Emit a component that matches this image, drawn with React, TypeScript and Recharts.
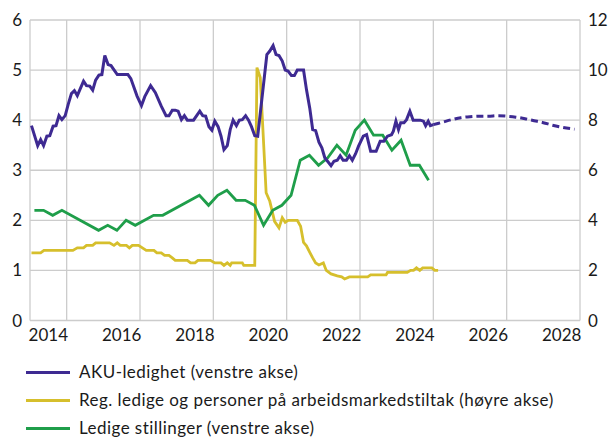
import React from 'react';
import { LineChart, Line, XAxis, YAxis, CartesianGrid } from 'recharts';

const FONT = 'Lato, "Open Sans", sans-serif';
const PURPLE = '#3E2A92';
const YELLOW = '#D6BF2C';
const GREEN = '#1F9E4A';

// X axis: year boundaries for gridlines, labels centred in each even year
const gridYears = [2014, 2015, 2016, 2017, 2018, 2019, 2020, 2021, 2022, 2023, 2024, 2025, 2026, 2027, 2028, 2029];
const labelYears = [2014, 2016, 2018, 2020, 2022, 2024, 2026, 2028];
const leftTicks = [0, 1, 2, 3, 4, 5, 6];
const rightTicks = [0, 2, 4, 6, 8, 10, 12];

// AKU-ledighet (left axis)
const akuT = [
  2014.04, 2014.21, 2014.29, 2014.37, 2014.46, 2014.54, 2014.63, 2014.71, 2014.79, 2014.87, 2014.96,
  2015.04, 2015.13, 2015.21, 2015.29, 2015.46, 2015.54, 2015.63, 2015.71, 2015.79, 2015.88, 2015.96,
  2016.04, 2016.13, 2016.21, 2016.38, 2016.67, 2016.75, 2016.92,
  2017.04, 2017.13, 2017.29, 2017.42, 2017.58, 2017.71, 2017.79, 2017.88, 2017.96,
  2018.04, 2018.13, 2018.21, 2018.29, 2018.46, 2018.63, 2018.71, 2018.79, 2018.88, 2018.96,
  2019.04, 2019.13, 2019.21, 2019.29, 2019.38, 2019.46, 2019.54, 2019.63, 2019.71, 2019.79, 2019.88, 2019.96,
  2020.04, 2020.13, 2020.21, 2020.46, 2020.54, 2020.63, 2020.71, 2020.79, 2020.88, 2020.96,
  2021.04, 2021.13, 2021.21, 2021.29, 2021.46, 2021.54, 2021.63, 2021.71, 2021.79, 2021.88, 2021.96,
  2022.04, 2022.21, 2022.29, 2022.38, 2022.46, 2022.54, 2022.63, 2022.71, 2022.79, 2022.88, 2022.96,
  2023.09, 2023.18, 2023.29, 2023.44, 2023.55, 2023.65, 2023.75, 2023.86, 2023.91, 2023.98,
  2024.05, 2024.11, 2024.2, 2024.27, 2024.36, 2024.45, 2024.64, 2024.73, 2024.79, 2024.86, 2024.92, 2025.0,
];
const akuV = [
  3.89, 3.49, 3.61, 3.49, 3.68, 3.69, 3.88, 3.89, 4.09, 4.01, 4.09,
  4.31, 4.53, 4.59, 4.49, 4.78, 4.69, 4.68, 4.6, 4.8, 4.9, 4.91,
  5.29, 5.11, 5.09, 4.91, 4.91, 4.83, 4.48,
  4.29, 4.47, 4.69, 4.55, 4.28, 4.09, 4.09, 4.2, 4.2,
  4.18, 4.01, 4.09, 4.0, 4.0, 4.18, 4.09, 4.08, 3.87, 3.8,
  3.98, 3.87, 3.68, 3.41, 3.49, 3.81, 4.0, 3.89, 4.0, 4.01, 4.09, 4.0,
  3.87, 3.69, 3.68, 5.31, 5.38, 5.49, 5.31, 5.29, 5.18, 5.0,
  4.98, 4.89, 4.89, 5.0, 5.0, 4.61, 4.24, 3.81, 3.79, 3.56, 3.45,
  3.25, 3.09, 3.18, 3.2, 3.29, 3.2, 3.2, 3.29, 3.2, 3.33, 3.48,
  3.68, 3.71, 3.38, 3.38, 3.58, 3.58, 3.68, 3.71, 3.78, 3.98,
  3.81, 3.95, 3.95, 4.01, 4.18, 4.0, 4.0, 3.98, 3.89, 3.98, 3.89, 3.91,
];

// AKU-ledighet projection (dashed)
const projT = [2025.0, 2025.25, 2025.5, 2025.75, 2026.0, 2026.25, 2026.5, 2026.75, 2027.0, 2027.25, 2027.5, 2027.75, 2028.0, 2028.25, 2028.5, 2028.85];
const projV = [3.91, 3.96, 4.01, 4.05, 4.07, 4.08, 4.08, 4.09, 4.08, 4.06, 4.03, 3.99, 3.95, 3.9, 3.86, 3.82];

// Reg. ledige og personer på arbeidsmarkedstiltak (right axis)
const regT = [
  2014.04, 2014.29, 2014.38, 2015.17, 2015.29, 2015.46, 2015.54, 2015.71, 2015.79, 2016.17, 2016.29,
  2016.38, 2016.46, 2016.63, 2016.71, 2016.79, 2016.96, 2017.17, 2017.38, 2017.46, 2017.58, 2017.67,
  2017.79, 2017.88, 2017.96, 2018.29, 2018.38, 2018.5, 2018.58, 2018.92, 2019.04, 2019.21, 2019.29,
  2019.38, 2019.46, 2019.5, 2019.79, 2019.83, 2020.13, 2020.19, 2020.28, 2020.44, 2020.54, 2020.67,
  2020.79, 2020.88, 2020.96, 2021.04, 2021.29, 2021.38, 2021.46, 2021.54, 2021.63, 2021.71, 2021.79,
  2021.88, 2022.0, 2022.08, 2022.21, 2022.38, 2022.5, 2022.58, 2022.71, 2023.21, 2023.29, 2023.71,
  2023.75, 2024.29, 2024.38, 2024.46, 2024.54, 2024.63, 2024.71, 2024.96, 2025.04, 2025.13,
];
const regV = [
  2.7, 2.7, 2.8, 2.8, 2.9, 2.9, 3.0, 3.0, 3.1, 3.1, 3.0,
  3.1, 3.0, 3.0, 2.9, 3.0, 3.0, 2.8, 2.8, 2.7, 2.7, 2.6,
  2.6, 2.5, 2.4, 2.4, 2.3, 2.3, 2.4, 2.4, 2.3, 2.3, 2.2,
  2.3, 2.2, 2.3, 2.3, 2.2, 2.2, 10.1, 9.7, 5.1, 4.76, 3.96,
  3.7, 4.1, 3.92, 4.0, 4.0, 3.76, 3.12, 2.98, 2.72, 2.5, 2.3,
  2.22, 2.3, 2.0, 1.86, 1.78, 1.74, 1.66, 1.74, 1.74, 1.82, 1.82,
  1.92, 1.92, 2.0, 2.0, 2.1, 2.0, 2.1, 2.1, 2.0, 2.0,
];

// Ledige stillinger (left axis)
const vacT = [
  2014.12, 2014.37, 2014.62, 2014.87, 2015.87, 2016.12, 2016.37, 2016.62, 2016.87, 2017.37, 2017.62,
  2018.62, 2018.87, 2019.12, 2019.37, 2019.62, 2019.87, 2020.12, 2020.37, 2020.62, 2020.87,
  2021.12, 2021.37, 2021.62, 2021.87, 2022.12, 2022.37, 2022.62, 2022.87, 2023.12, 2023.37, 2023.62,
  2023.87, 2024.12, 2024.37, 2024.62, 2024.87,
];
const vacV = [
  2.2, 2.2, 2.1, 2.2, 1.8, 1.9, 1.8, 2.0, 1.9, 2.1, 2.1,
  2.5, 2.3, 2.5, 2.6, 2.4, 2.4, 2.3, 1.9, 2.2, 2.3,
  2.5, 3.2, 3.3, 3.1, 3.25, 3.5, 3.3, 3.8, 4.0, 3.7, 3.7,
  3.4, 3.6, 3.1, 3.1, 2.8,
];

const zip = (t: number[], v: number[]) => t.map((x, i) => ({ t: x, v: v[i] }));
const akuData = zip(akuT, akuV);
const projData = zip(projT, projV);
const regData = zip(regT, regV);
const vacData = zip(vacT, vacV);

const legendItems = [
  { label: 'AKU-ledighet (venstre akse)', color: PURPLE },
  { label: 'Reg. ledige og personer på arbeidsmarkedstiltak (høyre akse)', color: YELLOW },
  { label: 'Ledige stillinger (venstre akse)', color: GREEN },
];

const tickStyle = { fontSize: 17, fill: '#1a1a1a', fontFamily: FONT };

export default function App() {
  return (
    <div style={{ position: 'relative', width: 616, height: 439, fontFamily: FONT, background: '#fff', overflow: 'hidden' }}>
      <style>{`body{margin:0;}`}</style>
      <LineChart width={616} height={439} margin={{ top: 20, right: 0, bottom: 88.5, left: 0 }}>
        <CartesianGrid xAxisId="grid" yAxisId="left" stroke="#cccccc" strokeWidth={1.3} />
        <XAxis
          xAxisId="grid"
          type="number"
          dataKey="t"
          domain={[2014, 2029]}
          ticks={gridYears}
          allowDataOverflow
          height={0}
          hide
        />
        <XAxis
          xAxisId="lab"
          type="number"
          dataKey="t"
          domain={[2014, 2029]}
          ticks={labelYears.map((y) => y + 0.5)}
          tickFormatter={(v: number) => String(Math.floor(v))}
          interval={0}
          allowDataOverflow
          axisLine={false}
          tickLine={false}
          height={30}
          tick={tickStyle}
        />
        <YAxis
          yAxisId="left"
          orientation="left"
          domain={[0, 6]}
          ticks={leftTicks}
          interval={0}
          axisLine={false}
          tickLine={false}
          width={30}
          tick={tickStyle}
        />
        <YAxis
          yAxisId="right"
          orientation="right"
          domain={[0, 12]}
          ticks={rightTicks}
          interval={0}
          axisLine={false}
          tickLine={false}
          width={36}
          tick={tickStyle}
        />
        <Line xAxisId="grid" yAxisId="right" data={regData} dataKey="v" type="linear" stroke={YELLOW} strokeWidth={2.8} dot={false} isAnimationActive={false} />
        <Line xAxisId="grid" yAxisId="left" data={vacData} dataKey="v" type="linear" stroke={GREEN} strokeWidth={2.8} dot={false} isAnimationActive={false} />
        <Line xAxisId="grid" yAxisId="left" data={akuData} dataKey="v" type="linear" stroke={PURPLE} strokeWidth={3} dot={false} isAnimationActive={false} />
        <Line xAxisId="grid" yAxisId="left" data={projData} dataKey="v" type="monotone" stroke={PURPLE} strokeWidth={3} strokeDasharray="7 4" dot={false} isAnimationActive={false} />
      </LineChart>
      <div style={{ position: 'absolute', left: 0, top: 358, width: 616 }}>
        {legendItems.map((it) => (
          <div key={it.label} style={{ display: 'flex', alignItems: 'center', height: 28 }}>
            <div style={{ marginLeft: 26, width: 44, height: 3, background: it.color }} />
            <span style={{ marginLeft: 9, fontSize: 17, lineHeight: '16px', letterSpacing: 0.45, color: '#1a1a1a', whiteSpace: 'nowrap' }}>{it.label}</span>
          </div>
        ))}
      </div>
    </div>
  );
}
